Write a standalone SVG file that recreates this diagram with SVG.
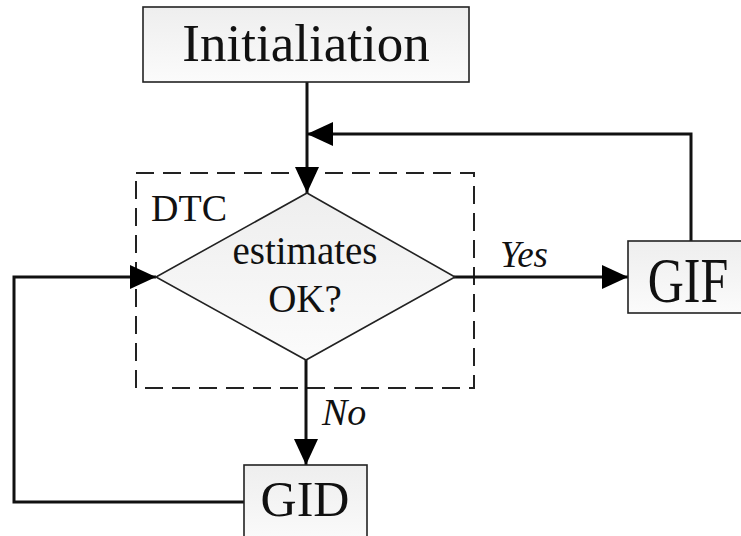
<svg xmlns="http://www.w3.org/2000/svg" width="741" height="536" viewBox="0 0 741 536">
<style>
.box{fill:url(#g);stroke:#222;stroke-width:1.6}
.t{font-family:"Liberation Serif","Times New Roman",serif;fill:#111}
.ti{font-family:"Liberation Serif","Times New Roman",serif;font-style:italic;fill:#111}
.c{fill:none;stroke:#111;stroke-width:3}
</style>
<defs>
<linearGradient id="g" x1="0" y1="0" x2="0" y2="1"><stop offset="0" stop-color="#eeeeee"/><stop offset="1" stop-color="#fbfbfb"/></linearGradient>
<marker id="ah" markerUnits="userSpaceOnUse" markerWidth="28" markerHeight="26" refX="26" refY="12" orient="auto"><path d="M0,0 L26,12 L0,24 Z" fill="#000"/></marker>
</defs>
<rect width="741" height="536" fill="#fff"/>
<g id="dtc">
<rect x="136" y="173" width="338" height="215" fill="none" stroke="#222" stroke-width="2" stroke-dasharray="18 9"/>
<text class="t" x="151" y="221" font-size="38">DTC</text>
</g>
<g id="connectors">
<path class="c" d="M307,82 V193" marker-end="url(#ah)"/>
<path class="c" d="M691,241 V134 H307" marker-end="url(#ah)"/>
<path class="c" d="M454,277 H628" marker-end="url(#ah)"/>
<path class="c" d="M306,360 V465" marker-end="url(#ah)"/>
<path class="c" d="M244,502 H14 V277 H156" marker-end="url(#ah)"/>
<text class="ti" x="500" y="267" font-size="37">Yes</text>
<text class="ti" x="322" y="425" font-size="38">No</text>
</g>
<g id="init">
<rect class="box" x="143" y="7" width="326" height="75"/>
<text class="t" x="306" y="61" font-size="53" text-anchor="middle">Initialiation</text>
</g>
<g id="decision">
<path d="M307,193 L455,277 L306,360 L156,277 Z" fill="url(#g)" stroke="#222" stroke-width="1.6"/>
<text class="t" x="305" y="264" font-size="39" text-anchor="middle">estimates</text>
<text class="t" x="305" y="312" font-size="39" text-anchor="middle">OK?</text>
</g>
<g id="gif">
<rect class="box" x="628" y="241" width="122" height="72"/>
<text class="t" x="688" y="302" font-size="50" text-anchor="middle" transform="translate(0,302) scale(1,1.27) translate(0,-302)">GIF</text>
</g>
<g id="gid">
<rect class="box" x="244" y="465" width="123" height="80"/>
<text class="t" x="305" y="516" font-size="50" text-anchor="middle">GID</text>
</g>
</svg>
